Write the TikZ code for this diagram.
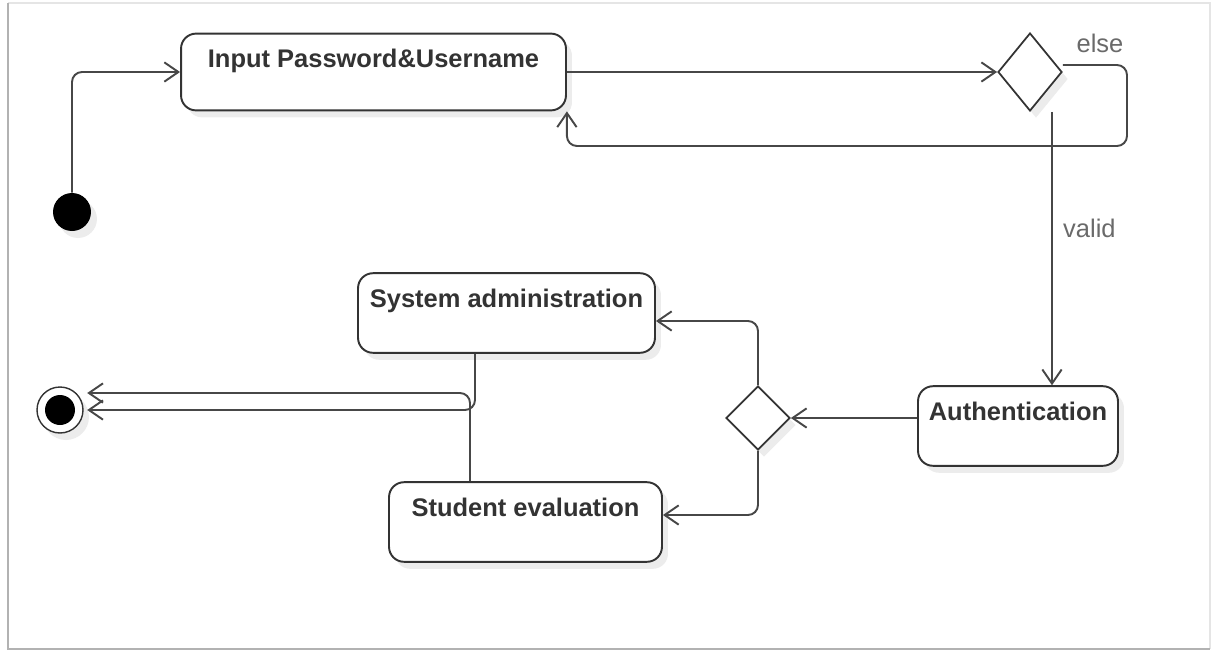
\documentclass[tikz,border=0pt]{standalone}
\usepackage{fontspec}
\setmainfont{Liberation Sans}
\usetikzlibrary{shapes.geometric,arrows.meta,shadows}
\definecolor{linec}{HTML}{474747}
\definecolor{boxc}{HTML}{333333}
\definecolor{labc}{HTML}{6A6A6A}
\tikzset{
  softshadow/.style={drop shadow={shadow xshift=0.12cm, shadow yshift=-0.14cm, opacity=0.15}},
  act/.style={draw=boxc, line width=1.1pt, fill=white, rounded corners=0.3cm, softshadow,
    inner ysep=0pt, text height=19.3pt, text depth=26pt, text=boxc,
    font=\fontsize{14.5}{17}\selectfont\bfseries},
  decision/.style={diamond, draw=boxc, line width=1pt, fill=white, inner sep=0pt,
    minimum width=1.28cm, softshadow},
  flow/.style={draw=linec, line width=1.1pt, rounded corners=0.2cm,
    -{Straight Barb[length=8pt,width=11pt]}},
  guard/.style={text=labc, font=\fontsize{14.5}{17}\selectfont},
}
\begin{document}
\begin{tikzpicture}[x=0.02cm, y=-0.02cm]
	\useasboundingbox (0,0) rectangle (1214,653);
	\draw[gray!20, line width=1pt] (8,3) -- (1210,3) -- (1210,649);
	\draw[gray!60, line width=1.4pt] (8,3) -- (8,649) -- (1210,649);
	
	\node[circle, fill=black, minimum size=0.76cm, softshadow] at (72,212) (init) {};
	\node[act, minimum width=7.70cm, text depth=24.4pt] at (373.5,72) (inp) {Input Password\&Username};
	\node[decision, minimum height=1.56cm] at (1030,72) (d1) {};
	\node[act, minimum width=4.00cm] at (1018,426) (auth) {Authentication};
	\node[decision, minimum height=1.28cm] at (758,418) (d2) {};
	\node[act, minimum width=5.94cm] at (506.5,313) (sys) {System administration};
	\node[act, minimum width=5.46cm] at (525.5,522) (stu) {Student evaluation};
	\node[circle, draw=boxc, line width=0.8pt, fill=white, minimum size=0.92cm, softshadow,
	  path picture={\fill[black] (path picture bounding box.center) circle (0.3cm);}] at (60,410) (fin) {};
	
	\node[guard] at (1100,43) (elselab) {else};
	\node[guard, anchor=west] at (1057,228) (validlab) {valid};
	
	\coordinate (elsecorner) at (1127,146);
	
	\draw[flow] (init.north) |- (inp.west);
	\draw[flow] (inp.east) -- (d1.west);
	\draw[flow] ([yshift=0.14cm]d1.east) -| (elsecorner) -| (inp.south east);
	\draw[flow] ([xshift=0.44cm]d1.south) -- ([xshift=0.44cm]d1.south |- auth.north);
	\draw[flow] (d2.east -| auth.west) -- (d2.east);
	\draw[flow] (d2.north) |- ([yshift=-0.16cm]sys.east);
	\draw[flow] (d2.south) |- ([yshift=0.14cm]stu.east);
	\draw[flow, shorten >=2pt] ([xshift=-0.63cm]sys.south) |- (fin.east);
	\draw[flow, shorten >=2pt] ([xshift=-1.11cm]stu.north) |- ([yshift=0.34cm]fin.east);
\end{tikzpicture}
\end{document}
